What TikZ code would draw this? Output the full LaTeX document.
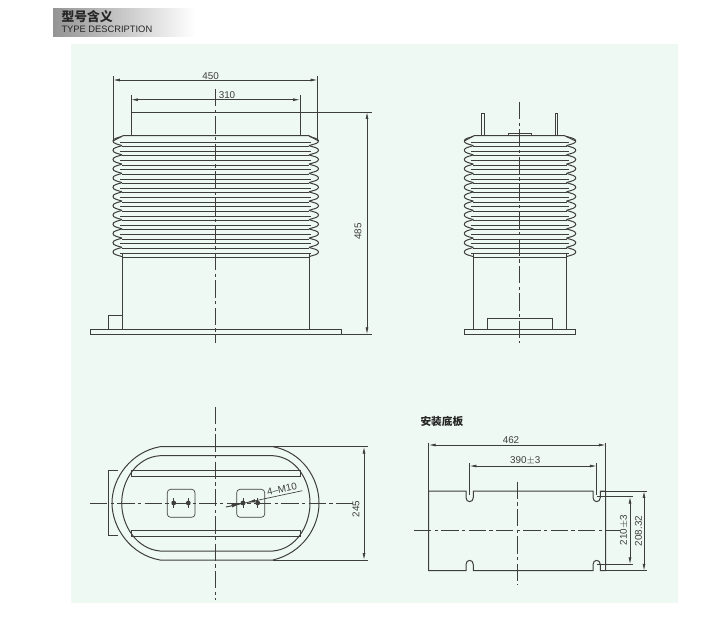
\documentclass[tikz,border=0pt]{standalone}
\usepackage{fontspec}
\setmainfont{Liberation Sans}
\newfontfamily\cjk{Noto Sans CJK SC}
\usetikzlibrary{arrows.meta}
\definecolor{panelgreen}{RGB}{239,249,243}
\definecolor{inkgrey}{RGB}{62,62,62}

\tikzset{every picture/.style={line width=0.75pt}}
\tikzset{
  outline/.style={color=inkgrey,line width=0.75pt},
  thinline/.style={color=inkgrey,line width=0.5pt},
  centerline/.style={color=inkgrey,line width=0.6pt,dash pattern=on 13pt off 2.5pt on 2.5pt off 2.5pt},
  dimline/.style={color=inkgrey,line width=0.55pt,{Latex[length=5.2pt,width=2.2pt]}-{Latex[length=5.2pt,width=2.2pt]}},
  dimtext/.style={inner sep=0.75pt,text=inkgrey,font=\fontsize{7.4}{8}\selectfont},
}

% one stack of ribs: outer left, inner left, inner right, outer right
\newcommand{\ribstack}[4]{
  \foreach \n in {0,...,12}{
    \pgfmathsetmacro{\ry}{141+9.25*\n}
    \draw [outline] (#2,\ry-4.6) .. controls (#2-5,\ry-3) and (#1,\ry-2.5) .. (#1,\ry) .. controls (#1,\ry+2.5) and (#2-5,\ry+3) .. (#2,\ry+4.6) ;
    \draw [outline] (#3,\ry-4.6) .. controls (#3+5,\ry-3) and (#4,\ry-2.5) .. (#4,\ry) .. controls (#4,\ry+2.5) and (#3+5,\ry+3) .. (#3,\ry+4.6) ;
    \draw [thinline] (#2-2,\ry+1) -- (#3+2,\ry+1) ;
    \draw [outline] (#2,\ry+5.6) -- (#3,\ry+5.6) ;
  }
}

\begin{document}
\begin{tikzpicture}[x=0.75pt,y=0.75pt,yscale=-1,xscale=1]
\useasboundingbox (0,0) rectangle (720,621);

%Header band
\shade [left color=black!42,right color=white] (53,8) rectangle (195,36);
\node (headcn) [anchor=west,inner sep=0pt,text=black!85,font=\cjk\bfseries\fontsize{9.6}{10}\selectfont] at (61,17) {型号含义};
\node (headen) [anchor=west,inner sep=0pt,text=black!85,font=\fontsize{7}{8}\selectfont] at (61,29.5) {TYPE DESCRIPTION};

%Panel
\fill [panelgreen] (70.5,44) rectangle (678,603);

%Front view
\ribstack{113}{122}{309}{318.5}
\draw [outline] (113,141) -- (123,135.7) -- (309,135.7) -- (318.5,141) ;
\draw [outline] (122,254) -- (122,329.5) ;
\draw [outline] (309,254) -- (309,329.5) ;
\draw [outline] (90,329.5) rectangle (341,334.5) ;
\draw [thinline] (108,329.5) -- (108,315) -- (122,315) ;
\draw [centerline] (215.7,89) -- (215.7,343) ;
%Front view dimensions
\draw [thinline] (113,76) -- (113,140) ;
\draw [thinline] (317.5,76) -- (317.5,140) ;
\draw [dimline] (113,80) -- (317.5,80) ;
\node (wouter) [dimtext] at (210.7,75.7) {450};
\draw [thinline] (131,95) -- (131,135.7) ;
\draw [thinline] (300,95) -- (300,135.7) ;
\draw [dimline] (131,99.7) -- (300,99.7) ;
\node (winner) [dimtext] at (227,95) {310};
\draw [thinline] (131,112) -- (372,112) ;
\draw [thinline] (341,334.3) -- (372,334.3) ;
\draw [dimline] (367,112) -- (367,334.3) ;
\node (hfront) [dimtext,rotate=90] at (358,231.5) {485};

%Side view
\ribstack{464.3}{473.3}{566.5}{575.7}
\draw [outline] (464.3,141) -- (474,135.7) -- (564.5,135.7) -- (575.7,141) ;
\draw [outline] (481.8,135.7) -- (481.8,113) -- (484.2,113) -- (484.2,135.7) ;
\draw [outline] (555.2,135.7) -- (555.2,113) -- (557.8,113) -- (557.8,135.7) ;
\draw [thinline] (508,135.7) -- (508,133) -- (531,133) -- (531,135.7) ;
\draw [outline] (473.3,254) -- (473.3,329.5) ;
\draw [outline] (566.5,254) -- (566.5,329.5) ;
\draw [outline] (464,329.5) rectangle (575.7,334.7) ;
\draw [thinline] (487,329.5) -- (487,318) -- (552,318) -- (552,329.5) ;
\draw [centerline] (519.7,102) -- (519.7,343) ;

%Plan view
\draw [outline] (160,446.7) -- (273,446.7) .. controls (302,452) and (319,478) .. (319,503) .. controls (319,528) and (302,553) .. (273,560) -- (160,560) .. controls (131,555) and (112,528) .. (112,503) .. controls (112,478) and (131,452) .. (160,446.7) -- cycle ;
\draw [outline] (160,455.7) -- (273,455.7) .. controls (296,457) and (310,480) .. (310,503) .. controls (310,526) and (296,549) .. (273,551) -- (160,551) .. controls (137,549) and (121.7,526) .. (121.7,503) .. controls (121.7,480) and (137,457) .. (160,455.7) -- cycle ;
\draw [thinline] (118,470.7) -- (108,470.7) -- (108,535.7) -- (118,535.7) ;
\draw [thinline] (131.3,470.7) rectangle (300.7,476) ;
\draw [thinline] (131.3,530) rectangle (300.7,536) ;
\draw [thinline,rounded corners=2.5pt] (167.3,489.3) rectangle (195,517.3) ;
\draw [thinline,rounded corners=2.5pt] (236.7,489.3) rectangle (264.7,517.3) ;
\foreach \hx in {173.7,188.3,243,257.7}{
  \fill [inkgrey] (\hx,503) circle (2.4) ;
  \draw [thinline] (\hx,498) -- (\hx,508) ;
}
\draw [centerline] (215.7,407) -- (215.7,600) ;
\draw [centerline] (90,503) -- (353,503) ;
%Plan view leader
\draw [thinline] (226,507) -- (302.3,490.7) ;
\draw [thinline,-{Latex[length=7pt,width=2.4pt]}] (226,507) -- (241,503.8) ;
\draw [thinline,-{Latex[length=7pt,width=2.4pt]}] (256,500.6) -- (246,502.7) ;
\node (thread) [dimtext,rotate=12] at (282,489.5) {4–M10};
%Plan view dimension
\draw [thinline] (273,446.7) -- (368,446.7) ;
\draw [thinline] (273,560) -- (368,560) ;
\draw [dimline] (364,446.7) -- (364,560) ;
\node (hplan) [dimtext,rotate=90] at (356,509) {245};

%Mounting plate
\node (platetitle) [anchor=west,inner sep=0pt,text=black!85,font=\cjk\bfseries\fontsize{8}{9}\selectfont] at (420,421.7) {安装底板};
\draw [outline] (428.7,491) -- (466,491) -- (466,497.5) .. controls (466,503) and (473.3,503) .. (473.3,497.5) -- (473.3,491) -- (593,491) -- (593,497.5) .. controls (593,503) and (600.3,503) .. (600.3,497.5) -- (600.3,491) -- (605.7,491) -- (605.7,570.7) -- (600.3,570.7) -- (600.3,564.5) .. controls (600.3,559) and (593,559) .. (593,564.5) -- (593,570.7) -- (473.3,570.7) -- (473.3,564.5) .. controls (473.3,559) and (466,559) .. (466,564.5) -- (466,570.7) -- (428.7,570.7) -- cycle ;
\draw [centerline] (517.3,481.7) -- (517.3,585) ;
\draw [centerline] (414,530.7) -- (620,530.7) ;
%Mounting plate dimensions
\draw [thinline] (428.7,442.7) -- (428.7,491) ;
\draw [thinline] (605.7,442.7) -- (605.7,491) ;
\draw [dimline] (428.7,445) -- (605.7,445) ;
\node (wplate) [dimtext] at (511,440.3) {462};
\draw [thinline] (469.5,463) -- (469.5,495) ;
\draw [thinline] (596.7,463) -- (596.7,495) ;
\draw [dimline] (469.5,466) -- (596.7,466) ;
\node (wslot) [dimtext] at (525.3,460.5) {390$\pm$3};
\draw [thinline] (596.7,496.7) -- (632.7,496.7) ;
\draw [thinline] (596.7,564.3) -- (632.7,564.3) ;
\draw [dimline] (630,496.7) -- (630,564.3) ;
\node (hslot) [dimtext,rotate=90] at (624,530) {210$\pm$3};
\draw [thinline] (600.3,491) -- (647,491) ;
\draw [thinline] (600.3,570.7) -- (647,570.7) ;
\draw [dimline] (644,491) -- (644,570.7) ;
\node (hplate) [dimtext,rotate=90] at (638.5,531) {208.32};

\end{tikzpicture}
\end{document}
